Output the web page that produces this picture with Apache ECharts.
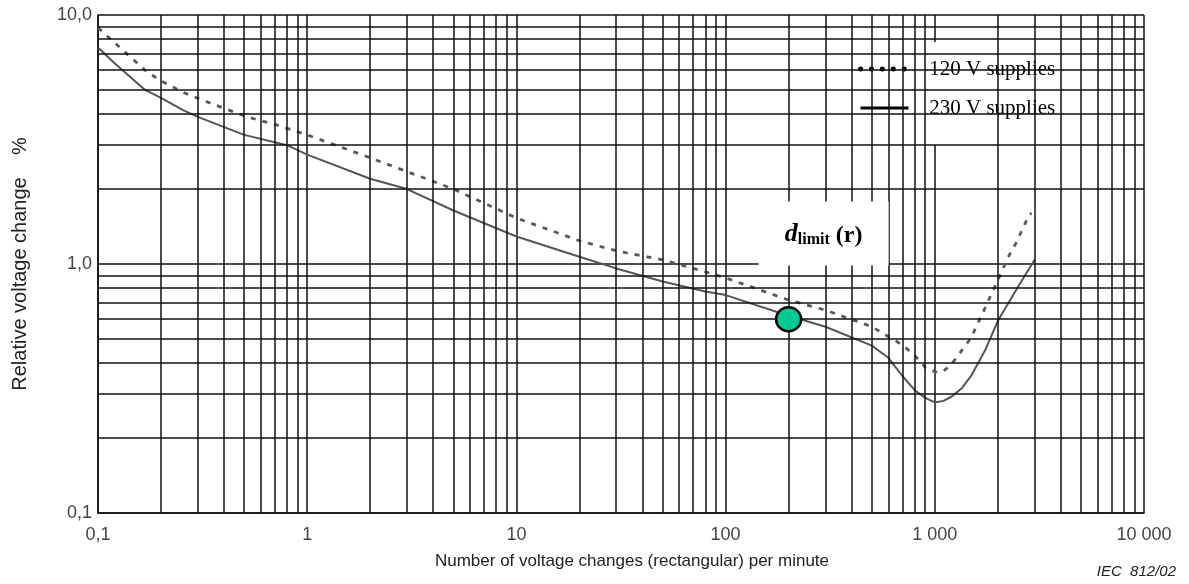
<!DOCTYPE html>
<html>
<head>
<meta charset="utf-8">
<script src="https://cdn.jsdelivr.net/npm/echarts@6/dist/echarts.min.js"></script>
<style>
html,body{margin:0;padding:0;background:#fff;}
#chart{width:1189px;height:584px;}
</style>
</head>
<body>
<div id="chart"></div>
<script>
// ---- data ----
const x230 = [0.1, 0.12, 0.168, 0.2, 0.255, 0.3, 0.5, 0.8, 1, 2, 3, 5, 10, 20, 30, 50, 80, 100, 200, 300, 500, 600, 700, 800, 900, 1000, 1100, 1200, 1350, 1500, 1750, 2000, 2500, 3000];
const y230 = [7.4, 6.4, 5.0, 4.65, 4.15, 3.9, 3.3, 3.0, 2.75, 2.2, 2.0, 1.64, 1.29, 1.07, 0.96, 0.85, 0.775, 0.75, 0.62, 0.56, 0.47, 0.42, 0.355, 0.312, 0.29, 0.278, 0.282, 0.293, 0.318, 0.358, 0.455, 0.59, 0.81, 1.04];

const x120 = [0.1, 0.112, 0.168, 0.2, 0.26, 0.343, 0.52, 0.72, 1, 2, 3, 5, 10, 20, 30, 50, 80, 100, 200, 300, 500, 700, 800, 906, 1000, 1045, 1100, 1194, 1486, 1715, 2000, 2234, 2440, 2820, 2900];
const y120 = [8.9, 8.16, 6.0, 5.43, 4.86, 4.43, 3.89, 3.61, 3.3, 2.67, 2.35, 2.0, 1.53, 1.24, 1.13, 1.04, 0.93, 0.88, 0.717, 0.653, 0.56, 0.473, 0.43, 0.382, 0.37, 0.366, 0.372, 0.393, 0.503, 0.65, 0.86, 1.06, 1.21, 1.57, 1.6];

const markerPoint = [200, 0.6];          // d_limit(r) point
const annotationAt = [294, 1.326];       // centre of the "d_limit (r)" label box

const seriesNames = ['120 V supplies', '230 V supplies'];
const xTickValues = [0.1, 1, 10, 100, 1000, 10000];
const xTickLabels = ['0,1', '1', '10', '100', '1 000', '10 000'];
const yTickValues = [0.1, 1, 10];
const yTickLabels = ['0,1', '1,0', '10,0'];
const xMinorGrid = [];
[0.1, 1, 10, 100, 1000].forEach(d => { for (let k = 2; k <= 9; k++) xMinorGrid.push(+(k * d).toPrecision(3)); });
const yMinorGrid = [];
[0.1, 1].forEach(d => { for (let k = 2; k <= 9; k++) yMinorGrid.push(+(k * d).toPrecision(3)); });

function lookup(values, labels, v) {
  for (let i = 0; i < values.length; i++) {
    if (Math.abs(Math.log10(v) - Math.log10(values[i])) < 1e-6) return labels[i];
  }
  return '';
}

const chart = echarts.init(document.getElementById('chart'), null, {renderer: 'canvas'});
const gridColor = '#111';
const option = {
  animation: false,
  backgroundColor: '#fff',
  color: ['#5a5a5a', '#555'],
  title: {
    text: 'IEC  812/02', right: 8, bottom: 0,
    textStyle: {fontFamily: 'Liberation Sans', fontSize: 15, fontStyle: 'italic', fontWeight: 'normal', color: '#222'}
  },
  grid: {left: 98, top: 15, right: 45, bottom: 71},
  legend: {
    orient: 'vertical', left: 826, top: 42,
    padding: [16, 50, 26, 32], itemGap: 17, itemWidth: 48, itemHeight: 22,
    backgroundColor: '#fff',
    formatter: name => '   ' + name,
    textStyle: {fontFamily: 'Liberation Serif', fontSize: 21, color: '#000', lineHeight: 22},
    data: [
      {name: seriesNames[0], itemStyle: {opacity: 0}, lineStyle: {color: '#000', width: 5, type: [0.1, 10.8], cap: 'round'}},
      {name: seriesNames[1], itemStyle: {opacity: 0}, lineStyle: {color: '#000', width: 3, type: 'solid'}}
    ]
  },
  xAxis: {
    type: 'log', logBase: 10, min: 0.1, max: 10000,
    name: 'Number of voltage changes (rectangular) per minute',
    nameLocation: 'middle', nameGap: 40,
    nameTextStyle: {fontFamily: 'Liberation Sans', fontSize: 17, color: '#222', padding: [0, 0, 0, 22]},
    axisLine: {show: true, lineStyle: {color: gridColor, width: 1.5}},
    axisTick: {show: false},
    axisLabel: {
      margin: 13, fontFamily: 'Liberation Sans', fontSize: 18, color: '#444',
      formatter: v => lookup(xTickValues, xTickLabels, v)
    },
    splitLine: {show: true, lineStyle: {color: gridColor, width: 1.5}}
  },
  yAxis: {
    type: 'log', logBase: 10, min: 0.1, max: 10,
    name: 'Relative voltage change    %',
    nameLocation: 'middle', nameGap: 68, nameRotate: 90,
    nameTextStyle: {fontFamily: 'Liberation Sans', fontSize: 20, color: '#222'},
    axisLine: {show: true, lineStyle: {color: gridColor, width: 1.5}},
    axisTick: {show: false},
    axisLabel: {
      margin: 6, fontFamily: 'Liberation Sans', fontSize: 18, color: '#444', padding: [8, 0, 0, 0],
      formatter: v => lookup(yTickValues, yTickLabels, v)
    },
    splitLine: {show: true, lineStyle: {color: gridColor, width: 1.5}}
  },
  series: [
    {
      name: 'minor-grid', type: 'line', data: [], silent: true, z: 1,
      markLine: {
        silent: true, symbol: ['none', 'none'], animation: false,
        label: {show: false},
        lineStyle: {color: gridColor, width: 1.5, type: 'solid'},
        emphasis: {disabled: true},
        data: xMinorGrid.map(v => ({xAxis: v})).concat(yMinorGrid.map(v => ({yAxis: v})))
      }
    },
    {
      name: seriesNames[0], type: 'line', z: 3,
      data: x120.map((x, i) => [x, y120[i]]),
      showSymbol: false, symbol: 'none', smooth: false,
      itemStyle: {color: '#5a5a5a'},
      lineStyle: {color: '#5a5a5a', width: 2.8, type: [5, 7]}
    },
    {
      name: seriesNames[1], type: 'line', z: 3,
      data: x230.map((x, i) => [x, y230[i]]),
      showSymbol: false, symbol: 'none', smooth: false,
      itemStyle: {color: '#555'},
      lineStyle: {color: '#555', width: 2}
    },
    {
      name: 'dlimit', type: 'scatter', z: 5,
      data: [markerPoint],
      symbol: 'circle', symbolSize: [25, 24],
      itemStyle: {color: '#00c896', borderColor: '#000', borderWidth: 2.5, opacity: 1},
      markPoint: {
        silent: true, symbol: 'rect', symbolSize: [130, 64],
        itemStyle: {color: '#fff'},
        data: [{coord: annotationAt}],
        label: {
          show: true, position: 'inside',
          formatter: '{d|d}{s|limit}{r| (r)}',
          rich: {
            d: {fontFamily: 'Liberation Serif', fontSize: 26, fontStyle: 'italic', fontWeight: 'bold', color: '#000', verticalAlign: 'bottom', lineHeight: 28},
            s: {fontFamily: 'Liberation Serif', fontSize: 16, fontWeight: 'bold', color: '#000', verticalAlign: 'bottom', lineHeight: 24},
            r: {fontFamily: 'Liberation Serif', fontSize: 24, fontWeight: 'bold', color: '#000', verticalAlign: 'bottom', lineHeight: 28}
          }
        }
      }
    }
  ]
};
chart.setOption(option);
</script>
</body>
</html>
